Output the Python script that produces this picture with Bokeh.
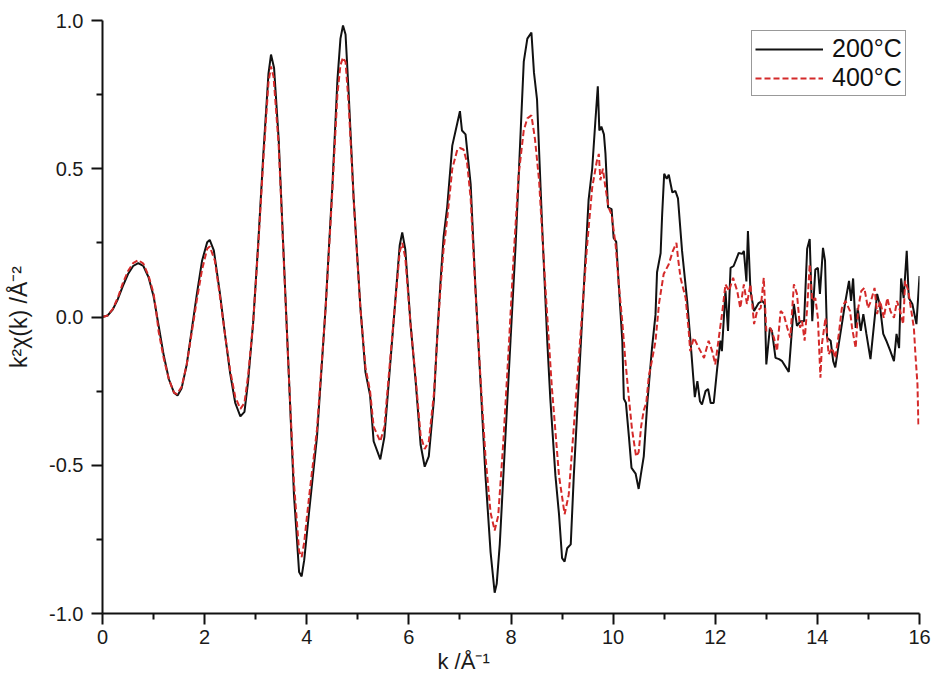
from bokeh.plotting import figure
from bokeh.models import (FixedTicker, Legend, LegendItem, Range1d, Title,
                          ColumnDataSource)
from bokeh.embed import file_html
from bokeh.resources import INLINE

# ---------------- data ----------------
k_200 = [0.00, 0.10, 0.20, 0.30, 0.40, 0.50, 0.60, 0.70, 0.80, 0.90, 1.00, 1.10,
         1.20, 1.30, 1.40, 1.47, 1.55, 1.65, 1.75, 1.85, 1.95, 2.05, 2.10, 2.18,
         2.30, 2.40, 2.50, 2.60, 2.70, 2.78, 2.85, 2.95, 3.05, 3.15, 3.25, 3.30,
         3.36, 3.45, 3.55, 3.65, 3.75, 3.85, 3.90, 3.95, 4.05, 4.20, 4.37, 4.50,
         4.60, 4.66, 4.71, 4.76, 4.82, 4.92, 5.05, 5.15, 5.24, 5.31, 5.44, 5.52,
         5.64, 5.76, 5.82, 5.87, 5.93, 6.03, 6.13, 6.23, 6.31, 6.39, 6.49, 6.56,
         6.62, 6.68, 6.75, 6.85, 6.95, 7.00, 7.04, 7.11, 7.21, 7.30, 7.40, 7.50,
         7.60, 7.68, 7.72, 7.78, 7.89, 7.99, 8.09, 8.19, 8.25, 8.32, 8.40, 8.45,
         8.51, 8.61, 8.71, 8.77, 8.87, 8.94, 9.00, 9.05, 9.10, 9.17, 9.23, 9.33,
         9.43, 9.52, 9.59, 9.65, 9.70, 9.73, 9.77, 9.82, 9.85, 9.90, 9.97, 10.01,
         10.06, 10.11, 10.18, 10.21, 10.25, 10.31, 10.36, 10.44, 10.50, 10.54,
         10.60, 10.67, 10.76, 10.83, 10.86, 10.93, 10.96, 11.00, 11.05, 11.09,
         11.16, 11.22, 11.27, 11.35, 11.45, 11.51, 11.57, 11.60, 11.65, 11.70,
         11.74, 11.81, 11.86, 11.91, 11.97, 12.04, 12.10, 12.13, 12.20, 12.25,
         12.30, 12.36, 12.46, 12.53, 12.56, 12.61, 12.64, 12.69, 12.76, 12.85,
         12.92, 12.97, 13.00, 13.07, 13.11, 13.18, 13.25, 13.31, 13.44, 13.54,
         13.60, 13.67, 13.74, 13.80, 13.85, 13.90, 13.96, 14.01, 14.05, 14.11,
         14.15, 14.19, 14.26, 14.31, 14.35, 14.42, 14.48, 14.55, 14.62, 14.66,
         14.70, 14.75, 14.79, 14.85, 14.90, 14.96, 15.04, 15.11, 15.17, 15.22,
         15.29, 15.35, 15.43, 15.50, 15.55, 15.60, 15.64, 15.69, 15.75, 15.79,
         15.86, 15.94, 16.00]
chi_200 = [0.000, 0.005, 0.025, 0.060, 0.105, 0.145, 0.172, 0.182, 0.172, 0.135,
           0.070, -0.030, -0.130, -0.210, -0.255, -0.265, -0.240, -0.160, -0.040,
           0.080, 0.190, 0.252, 0.260, 0.225, 0.080, -0.060, -0.190, -0.290,
           -0.335, -0.320, -0.220, -0.020, 0.250, 0.550, 0.820, 0.885, 0.840,
           0.600, 0.200, -0.200, -0.600, -0.860, -0.875, -0.820, -0.650, -0.405,
           0.034, 0.436, 0.797, 0.939, 0.983, 0.953, 0.758, 0.396, 0.034, -0.186,
           -0.264, -0.419, -0.480, -0.405, -0.147, 0.111, 0.241, 0.285, 0.228,
           -0.017, -0.211, -0.431, -0.505, -0.470, -0.280, -0.050, 0.120, 0.270,
           0.370, 0.578, 0.655, 0.694, 0.629, 0.616, 0.448, 0.111, -0.211, -0.535,
           -0.793, -0.930, -0.900, -0.767, -0.405, -0.081, 0.241, 0.629, 0.861,
           0.939, 0.959, 0.824, 0.733, 0.306, -0.081, -0.276, -0.535, -0.665,
           -0.813, -0.825, -0.780, -0.767, -0.535, -0.211, 0.111, 0.396, 0.500,
           0.655, 0.778, 0.629, 0.642, 0.616, 0.551, 0.370, 0.364, 0.267, 0.254,
           0.111, -0.081, -0.276, -0.289, -0.405, -0.509, -0.528, -0.580, -0.535,
           -0.470, -0.289, -0.107, 0.008, 0.151, 0.215, 0.345, 0.483, 0.466,
           0.480, 0.420, 0.425, 0.400, 0.223, 0.054, -0.070, -0.205, -0.270,
           -0.216, -0.284, -0.295, -0.250, -0.243, -0.290, -0.290, -0.170,
           -0.080, -0.115, 0.088, -0.047, 0.166, 0.172, 0.216, 0.213, 0.223,
           0.120, 0.290, 0.088, 0.020, 0.047, 0.054, 0.044, -0.160, -0.037,
           -0.047, -0.138, -0.142, -0.149, -0.185, 0.044, -0.030, -0.014, -0.014,
           0.230, 0.263, -0.014, 0.160, 0.166, 0.078, 0.233, 0.190, -0.070,
           -0.080, -0.149, -0.170, -0.090, -0.024, 0.054, 0.122, 0.054, 0.130,
           -0.037, 0.030, -0.047, 0.010, -0.057, -0.142, -0.024, 0.078, 0.044,
           -0.057, -0.080, -0.115, -0.149, -0.057, -0.105, 0.130, 0.064, 0.223,
           0.064, 0.044, -0.024, 0.138]

k_400 = [0.00, 0.10, 0.20, 0.30, 0.40, 0.50, 0.60, 0.70, 0.80, 0.90, 1.00, 1.05,
         1.10, 1.20, 1.30, 1.40, 1.46, 1.55, 1.65, 1.75, 1.85, 1.95, 2.05, 2.10,
         2.20, 2.30, 2.40, 2.50, 2.60, 2.70, 2.78, 2.85, 2.95, 3.05, 3.15, 3.25,
         3.30, 3.35, 3.45, 3.55, 3.65, 3.75, 3.85, 3.90, 3.95, 4.05, 4.20, 4.37,
         4.50, 4.60, 4.66, 4.71, 4.76, 4.82, 4.92, 5.05, 5.15, 5.24, 5.31, 5.44,
         5.52, 5.64, 5.76, 5.82, 5.87, 5.93, 6.03, 6.13, 6.23, 6.31, 6.39, 6.49,
         6.56, 6.62, 6.68, 6.75, 6.85, 6.95, 7.00, 7.07, 7.14, 7.21, 7.30, 7.40,
         7.50, 7.60, 7.68, 7.75, 7.85, 7.95, 8.05, 8.15, 8.25, 8.32, 8.40, 8.47,
         8.55, 8.67, 8.80, 8.94, 9.05, 9.13, 9.26, 9.39, 9.49, 9.59, 9.68, 9.72,
         9.75, 9.80, 9.84, 9.91, 9.97, 10.05, 10.11, 10.18, 10.24, 10.31, 10.37,
         10.45, 10.50, 10.55, 10.60, 10.65, 10.70, 10.76, 10.83, 10.90, 10.99,
         11.09, 11.17, 11.24, 11.27, 11.32, 11.42, 11.48, 11.51, 11.58, 11.68,
         11.78, 11.87, 11.94, 12.00, 12.07, 12.14, 12.20, 12.27, 12.35, 12.43,
         12.49, 12.56, 12.62, 12.69, 12.76, 12.82, 12.89, 12.95, 13.00, 13.08,
         13.15, 13.21, 13.28, 13.34, 13.41, 13.47, 13.54, 13.60, 13.66, 13.70,
         13.75, 13.80, 13.85, 13.90, 13.96, 14.01, 14.06, 14.09, 14.16, 14.22,
         14.29, 14.35, 14.42, 14.48, 14.55, 14.64, 14.68, 14.75, 14.80, 14.86,
         14.92, 14.99, 15.05, 15.12, 15.17, 15.23, 15.30, 15.37, 15.43, 15.50,
         15.56, 15.62, 15.68, 15.72, 15.78, 15.84, 15.89, 15.92, 15.96, 15.98]
chi_400 = [0.000, 0.005, 0.027, 0.065, 0.115, 0.155, 0.182, 0.192, 0.180, 0.140,
           0.080, 0.020, -0.050, -0.140, -0.210, -0.255, -0.260, -0.235, -0.160,
           -0.050, 0.060, 0.160, 0.230, 0.238, 0.190, 0.070, -0.060, -0.180,
           -0.270, -0.310, -0.290, -0.200, -0.020, 0.240, 0.530, 0.790, 0.845,
           0.810, 0.580, 0.190, -0.200, -0.560, -0.790, -0.810, -0.760, -0.600,
           -0.380, 0.030, 0.420, 0.750, 0.850, 0.875, 0.860, 0.720, 0.390, 0.030,
           -0.170, -0.250, -0.370, -0.420, -0.370, -0.130, 0.100, 0.220, 0.250,
           0.200, -0.020, -0.200, -0.400, -0.445, -0.420, -0.260, -0.060, 0.100,
           0.230, 0.330, 0.500, 0.565, 0.570, 0.565, 0.520, 0.400, 0.100, -0.200,
           -0.470, -0.660, -0.720, -0.670, -0.420, -0.120, 0.200, 0.480, 0.630,
           0.670, 0.680, 0.600, 0.460, 0.110, -0.237, -0.535, -0.665, -0.600,
           -0.302, 0.008, 0.241, 0.436, 0.525, 0.550, 0.461, 0.500, 0.448, 0.370,
           0.345, 0.241, 0.111, -0.017, -0.147, -0.276, -0.379, -0.470, -0.456,
           -0.367, -0.315, -0.289, -0.198, -0.147, -0.081, 0.047, 0.145, 0.178,
           0.223, 0.250, 0.200, 0.132, 0.064, -0.047, -0.115, -0.070, -0.105,
           -0.138, -0.080, -0.115, -0.160, -0.070, 0.020, 0.110, 0.088, 0.132,
           0.088, 0.030, 0.110, 0.044, 0.110, -0.024, 0.020, 0.030, 0.132, -0.047,
           -0.037, -0.070, -0.115, 0.020, 0.010, -0.036, -0.070, 0.110, 0.078,
           -0.036, -0.014, -0.080, 0.030, 0.178, 0.054, 0.064, -0.003, -0.205,
           -0.090, -0.003, -0.126, -0.105, -0.138, -0.057, 0.030, 0.054, 0.020,
           -0.037, -0.105, 0.030, 0.088, 0.098, 0.030, 0.054, 0.098, 0.010, 0.054,
           -0.003, 0.064, 0.020, -0.003, 0.054, 0.020, -0.024, 0.122, 0.088, 0.020,
           -0.037, -0.126, -0.227, -0.370]

series_labels = ["200°C", "400°C"]
x_ticks = [0, 2, 4, 6, 8, 10, 12, 14, 16]
x_minor_ticks = [1, 3, 5, 7, 9, 11, 13, 15]
y_ticks = [-1.0, -0.5, 0.0, 0.5, 1.0]
y_tick_labels = ["-1.0", "-0.5", "0.0", "0.5", "1.0"]
y_minor_ticks = [-0.75, -0.25, 0.25, 0.75]
x_title = "k /Å⁻¹"
y_title = "k²χ(k) /Å⁻²"

FONT = "Liberation Sans"
INK = "#1a1a1a"

# ---------------- figure ----------------
p = figure(width=945, height=673, output_backend="svg", toolbar_location=None,
           x_range=Range1d(0, 16), y_range=Range1d(-1, 1),
           min_border_left=102, min_border_right=26,
           min_border_top=20, min_border_bottom=20)
p.outline_line_color = None
p.grid.visible = False
p.background_fill_color = "white"
p.border_fill_color = "white"

src200 = ColumnDataSource(dict(k=k_200, chi=chi_200))
src400 = ColumnDataSource(dict(k=k_400, chi=chi_400))
r1 = p.line("k", "chi", source=src200, line_color="#111111", line_width=2)
r2 = p.line("k", "chi", source=src400, line_color="#d42a2a", line_width=2,
            line_dash="6 3")

for ax in (p.xaxis[0], p.yaxis[0]):
    ax.axis_line_width = 2
    ax.axis_line_color = "#111111"
    ax.major_tick_line_width = 2
    ax.minor_tick_line_width = 2
    ax.major_tick_line_color = "#111111"
    ax.minor_tick_line_color = "#111111"
    ax.major_tick_in = 0
    ax.major_tick_out = 11
    ax.minor_tick_in = 0
    ax.minor_tick_out = 6
    ax.major_label_text_font = FONT
    ax.major_label_text_font_size = "20px"
    ax.major_label_text_color = INK

p.xaxis[0].ticker = FixedTicker(ticks=x_ticks, minor_ticks=x_minor_ticks)
p.xaxis[0].major_label_standoff = 5

p.yaxis[0].ticker = FixedTicker(ticks=y_ticks, minor_ticks=y_minor_ticks)
p.yaxis[0].major_label_overrides = {t: s for t, s in zip(y_ticks, y_tick_labels)}
p.yaxis[0].major_label_standoff = 8
p.yaxis[0].axis_label = y_title
p.yaxis[0].axis_label_text_font = FONT
p.yaxis[0].axis_label_text_font_size = "23px"
p.yaxis[0].axis_label_text_font_style = "normal"
p.yaxis[0].axis_label_text_color = INK
p.yaxis[0].axis_label_standoff = 14

# x-axis title, left-aligned with an offset as in the reference
p.add_layout(Title(text=x_title, align="left", offset=335, standoff=0,
                   text_font=FONT, text_font_size="22px",
                   text_font_style="normal", text_color=INK), "below")

legend = Legend(items=[LegendItem(label=series_labels[0], renderers=[r1]),
                       LegendItem(label=series_labels[1], renderers=[r2])],
                location=(649, 517))
legend.label_text_font = FONT
legend.label_text_font_size = "25px"
legend.label_text_color = "#111111"
legend.glyph_width = 68
legend.glyph_height = 26
legend.label_height = 26
legend.label_standoff = 9
legend.padding = 3
legend.spacing = 0
legend.margin = 0
legend.border_line_color = "#333333"
legend.border_line_width = 1
legend.background_fill_color = "white"
legend.background_fill_alpha = 1
p.add_layout(legend)

open("out.html", "w").write(file_html(p, INLINE))
